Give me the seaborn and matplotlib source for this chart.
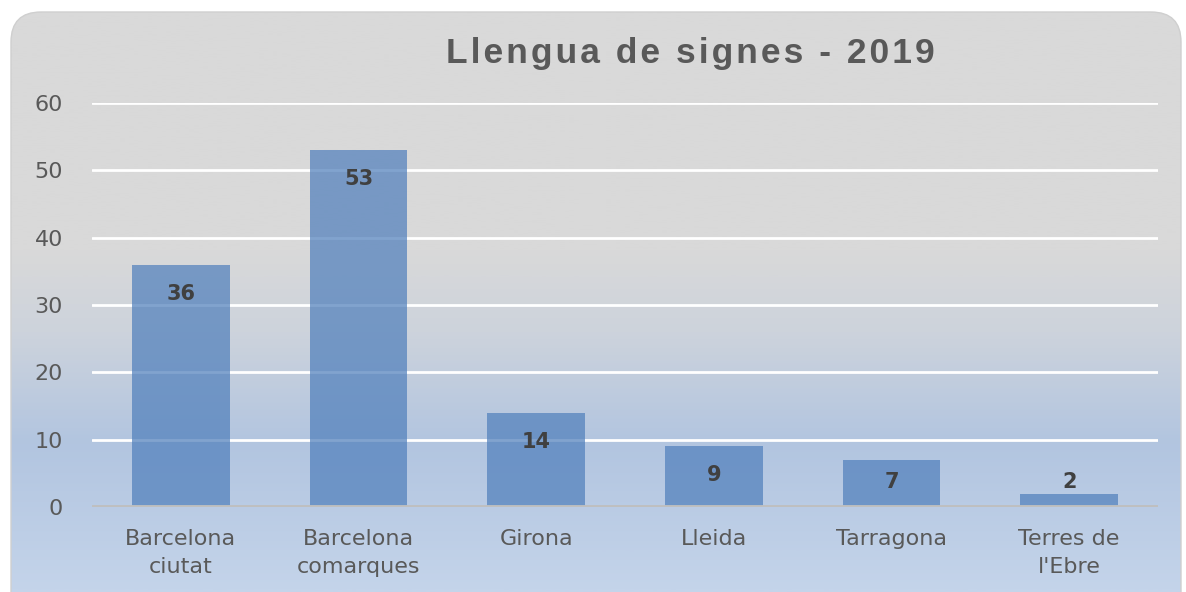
import numpy as np
import pandas as pd
import matplotlib.pyplot as plt
import seaborn as sns
from matplotlib.colors import LinearSegmentedColormap
from matplotlib.patches import FancyBboxPatch

# dades
comarques = ["Barcelona\nciutat", "Barcelona\ncomarques", "Girona", "Lleida",
             "Tarragona", "Terres de\nl'Ebre"]
valors = [36, 53, 14, 9, 7, 2]
titol = "Llengua de signes - 2019"

df = pd.DataFrame({"zona": comarques, "n": valors})

sns.set_style("white")
plt.rcParams["font.family"] = ["DejaVu Sans"]

fig = plt.figure(figsize=(11.86, 5.92), dpi=100)
fig.patch.set_facecolor("white")

# fons amb degradat (gris a dalt, blau a baix) dins un rectangle arrodonit
bg = fig.add_axes([0, 0, 1, 1], zorder=-10)
bg.set_xlim(0, 1186)
bg.set_ylim(592, 0)
bg.axis("off")
cmap = LinearSegmentedColormap.from_list(
    "fons",
    [(0.0, "#d9d9d9"), (0.42, "#d9d9d9"), (0.56, "#cdd3dc"),
     (0.75, "#b2c5e0"), (1.0, "#c4d4ea")])
grad = np.linspace(0, 1, 300).reshape(-1, 1)
im = bg.imshow(grad, cmap=cmap, aspect="auto", extent=[0, 1186, 592, 0])
marc = FancyBboxPatch((11, 12), 1170, 620, boxstyle="round,pad=0,rounding_size=30",
                      transform=bg.transData, facecolor="none", edgecolor="#cfcfcf", lw=1)
bg.add_patch(marc)
im.set_clip_path(marc)

ax = fig.add_axes([0.0776, 0.1436, 0.8988, 0.6824])
ax.patch.set_alpha(0)

sns.barplot(data=df, x="zona", y="n", color="#5180bc", alpha=0.72, saturation=1,
            width=0.55, linewidth=0, edgecolor="none", ax=ax, zorder=3)

ax.set_ylim(0, 60)
ax.set_yticks(range(0, 61, 10))
ax.set_xlim(-0.5, len(comarques) - 0.5)
ax.grid(axis="y", color="white", lw=2, zorder=0)
ax.set_axisbelow(True)
for s in ax.spines.values():
    s.set_visible(False)
ax.axhline(0, color="#bfbfbf", lw=3.5, zorder=4)

ax.set_xlabel("")
ax.set_ylabel("")
ax.tick_params(axis="y", length=0, pad=21, labelsize=16, labelcolor="#595959")
ax.tick_params(axis="x", length=0, pad=16, labelsize=16, labelcolor="#595959")
for t in ax.get_xticklabels():
    t.set_linespacing(1.5)

# etiquetes de dades
for i, v in enumerate(valors):
    y = max(v - 4.3, 3.7)
    ax.text(i, y, str(v), ha="center", va="center", fontsize=15,
            fontweight="bold", color="#404040", zorder=5)

# títol amb una mica d'espai entre lletres
titol_espaiat = "\u200a".join(titol)
fig.text(0.582, 0.91, titol_espaiat, ha="center", va="center", fontsize=25.5,
         fontweight="bold", color="#595959", family=["Liberation Sans", "DejaVu Sans"])

fig.savefig("out.png", dpi=100)
